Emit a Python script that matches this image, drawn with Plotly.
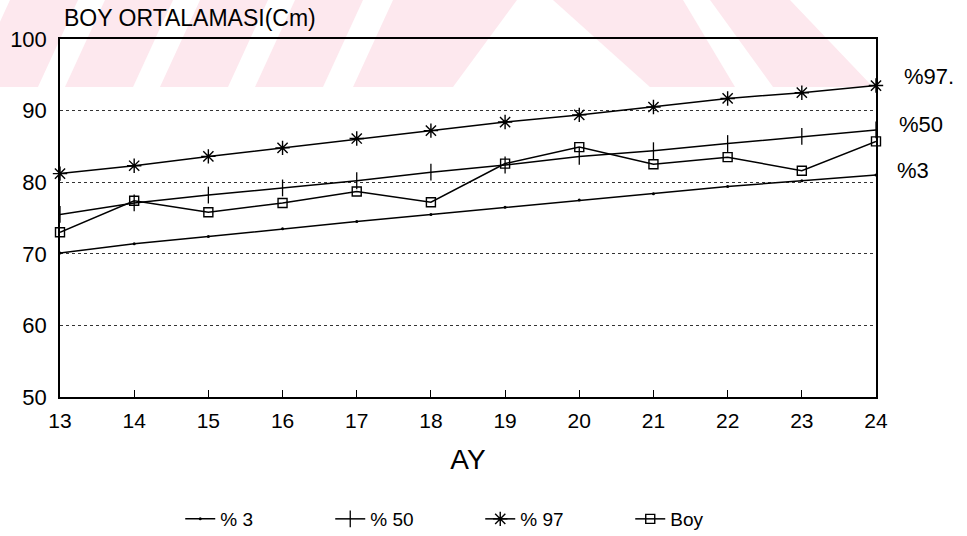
import plotly.graph_objects as go

months = [13, 14, 15, 16, 17, 18, 19, 20, 21, 22, 23, 24]
p3 = [70.1, 71.4, 72.4, 73.5, 74.5, 75.5, 76.5, 77.5, 78.4, 79.4, 80.2, 81.0]
p50 = [75.5, 77.1, 78.2, 79.2, 80.2, 81.4, 82.4, 83.6, 84.4, 85.4, 86.4, 87.3]
p97 = [81.2, 82.3, 83.6, 84.8, 86.1, 87.2, 88.4, 89.4, 90.5, 91.7, 92.5, 93.5]
boy = [73.0, 77.4, 75.8, 77.1, 78.7, 77.2, 82.6, 84.9, 82.5, 83.5, 81.6, 85.7]
x_ticks = [13, 14, 15, 16, 17, 18, 19, 20, 21, 22, 23, 24]
y_ticks = [50, 60, 70, 80, 90, 100]
series_names = ["% 3", "% 50", "% 97", "Boy"]
end_labels = ["%97.", "%50", "%3"]
end_label_y = [94.7, 88.1, 81.7]

FONT = "Liberation Sans, Arial, sans-serif"

fig = go.Figure()
styles = [
    (p3, dict(symbol="circle", size=3, color="black")),
    (p50, dict(symbol="line-ns-open", size=12, color="black", line=dict(width=1.3, color="black"))),
    (p97, dict(symbol="asterisk-open", size=12, color="black", line=dict(width=1.4, color="black"))),
    (boy, dict(symbol="square-open", size=9, color="black", line=dict(width=1.4, color="black"))),
]
for name, (vals, mk) in zip(series_names, styles):
    fig.add_trace(go.Scatter(
        x=months, y=vals, name=name, mode="lines+markers",
        line=dict(color="black", width=1.5), marker=mk, cliponaxis=False,
    ))

# faint watermark stripes of the scanned page (decoration)
def P(xpx, ypx):
    return (xpx - 60) / 816, (397 - ypx) / 358

def poly(pts):
    s = ""
    for i, (a, b) in enumerate(pts):
        xp, yp = P(a, b)
        s += ("M" if i == 0 else "L") + f"{xp:.4f},{yp:.4f} "
    return s + "Z"

polys = []
for b0 in [-30, 65, 160, 255]:
    polys.append([(b0, 87), (b0 + 68, 87), (b0 + 108, 0), (b0 + 40, 0)])
polys.append([(353, 87), (453, 87), (517, 0), (393, 0)])
polys.append([(553, 0), (683, 0), (735, 87), (650, 87)])
polys.append([(710, 0), (790, 0), (873, 87), (773, 87)])
shapes = []
for pts in polys:
    shapes.append(dict(type="path", xref="paper", yref="paper", path=poly(pts),
                       fillcolor="rgb(253,232,238)", line=dict(width=0), layer="below"))

annotations = [
    dict(text="BOY ORTALAMASI(Cm)", xref="paper", yref="paper", x=0.002, y=(397 - 18) / 358,
         xanchor="left", yanchor="middle", showarrow=False,
         font=dict(family=FONT, size=23, color="black")),
]
for t, yv, xs in zip(end_labels, end_label_y, [26, 21, 19]):
    annotations.append(dict(text=t, xref="paper", yref="y", x=1, y=yv, xanchor="left",
                            yanchor="middle", xshift=xs, showarrow=False,
                            font=dict(family=FONT, size=22, color="black")))

fig.update_layout(
    width=967, height=536,
    margin=dict(l=60, r=91, t=39, b=139, autoexpand=False),
    paper_bgcolor="white", plot_bgcolor="rgba(0,0,0,0)",
    font=dict(family=FONT, color="black"),
    shapes=shapes, annotations=annotations,
    showlegend=True,
    legend=dict(orientation="h", x=0.515, xanchor="center", yref="container",
                y=(536 - 519) / 536, yanchor="middle",
                font=dict(family=FONT, size=19, color="black"),
                entrywidth=105, entrywidthmode="pixels", bgcolor="rgba(0,0,0,0)"),
    xaxis=dict(range=[13, 24], tickvals=x_ticks, ticktext=[str(v) for v in x_ticks],
               showgrid=False, zeroline=False, showline=True, linecolor="black", linewidth=1.5,
               mirror=True, ticks="inside", ticklen=7, tickcolor="black", tickwidth=1.3,
               automargin=False,
               tickfont=dict(family=FONT, size=21, color="black"), ticklabelstandoff=4,
               title=dict(text="AY", font=dict(family=FONT, size=28, color="black"), standoff=18)),
    yaxis=dict(range=[50, 100], tickvals=y_ticks, ticktext=[str(v) for v in y_ticks],
               showgrid=True, gridcolor="#333333", gridwidth=1, griddash="dot", automargin=False,
               zeroline=False, showline=True, linecolor="black", linewidth=1.5, mirror=True,
               ticks="", tickfont=dict(family=FONT, size=22, color="black"), ticklabelstandoff=7),
)

fig.write_html("out.html")
